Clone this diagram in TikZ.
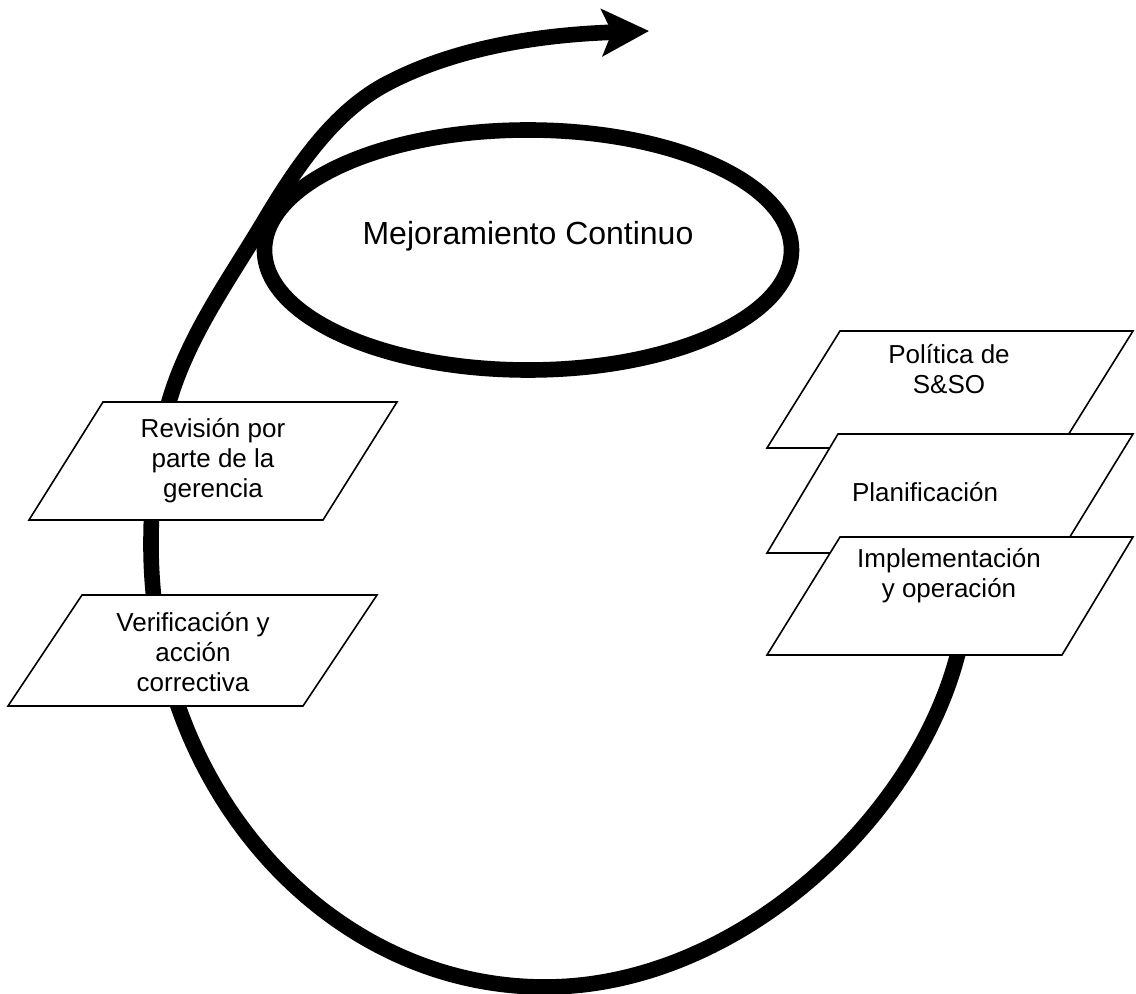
\documentclass[tikz,border=0pt]{standalone}
\usepackage{fontspec}
\setmainfont{Liberation Sans}
\usetikzlibrary{arrows.meta,shapes.geometric}

\begin{document}
\begin{tikzpicture}[
  x=0.5pt,y=-0.5pt,
  spiral/.style={line width=7.8pt,-{Stealth[length=23.5pt,width=23.5pt,inset=5pt]}},
  loopline/.style={draw,ellipse,line width=7.8pt,minimum width=263.5pt,minimum height=120pt,
    inner sep=0pt,font=\fontsize{16}{19}\selectfont,text height=10pt,text depth=15pt},
  paral/.style={draw,fill=white,line width=0.8pt,line join=miter},
  lbl/.style={font=\fontsize{13}{15}\selectfont,align=center}
]
  \useasboundingbox (0,0) rectangle (1136,994);

  % the big turn, ending in the arrow at the top
  \draw[spiral] (986,548) -- (957,657)
    .. controls (913,822) and (735,987) .. (545,987)
    .. controls (328,987) and (151,789) .. (151,545)
    .. controls (151,494) and (156,441) .. (172,392)
    .. controls (192,331) and (230,278) .. (263,223)
    .. controls (295,169) and (334,110) .. (390,82)
    .. controls (468,42) and (561,34) .. (649,31);

  \node[loopline] (mejora) at (528,250) {Mejoramiento Continuo};

  % left side
  \draw[paral] (103,402) -- (397,402) -- (323,520) -- (29,520) -- cycle;
  \node[lbl] (revision) at (213,461) {Revisión por\\parte de la\\gerencia};
  \draw[paral] (82,595) -- (377,595) -- (303,706) -- (8,706) -- cycle;
  \node[lbl] (verificacion) at (193,652) {Verificación y\\acción\\correctiva};

  % right side, stacked
  \draw[paral] (840,331) -- (1133,331) -- (1060,448) -- (767,448) -- cycle;
  \node[lbl] (politica) at (949,369) {Política de\\S\&SO};
  \draw[paral] (838,434) -- (1133,434) -- (1060,553) -- (767,553) -- cycle;
  \node[lbl] (planificacion) at (925,492) {Planificación};
  \draw[paral] (840,537) -- (1133,537) -- (1062,655) -- (767,655) -- cycle;
  \node[lbl] (implementacion) at (949,576) {Implementación\\y operación};
\end{tikzpicture}
\end{document}
